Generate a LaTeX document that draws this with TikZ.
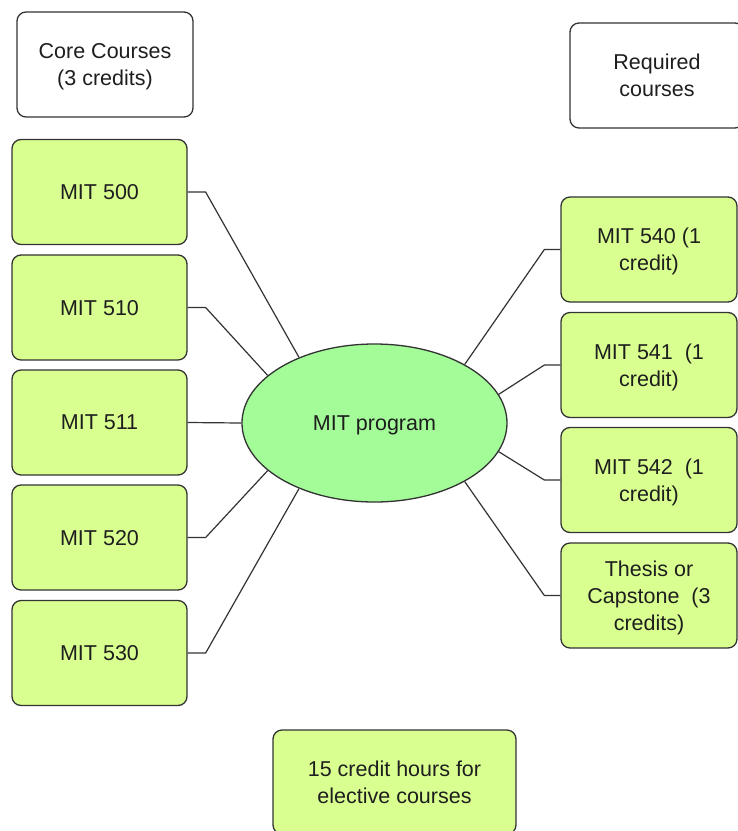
\documentclass[tikz,border=0pt]{standalone}
\usepackage{fontspec}
\setmainfont{Liberation Sans}
\usetikzlibrary{shapes.geometric}
\definecolor{boxfill}{HTML}{D9FF90}
\definecolor{hubfill}{HTML}{A3FC98}
\definecolor{edge}{HTML}{333333}
\definecolor{ink}{HTML}{1E1E1E}
\begin{document}
\begin{tikzpicture}[x=1pt,y=-1pt,
  every node/.style={font=\fontsize{21.5}{27}\selectfont, text=ink, align=center,
    inner sep=0pt, text depth=0pt},
  label box/.style={draw=edge, line width=1.3pt, rounded corners=9pt, fill=white,
    minimum width=176pt, minimum height=105pt},
  course/.style={label box, fill=boxfill},
  hub/.style={ellipse, draw=edge, line width=1.3pt, fill=hubfill,
    minimum width=265pt, minimum height=158pt},
  link/.style={draw=edge, line width=1.2pt}]
\clip (0,0) rectangle (738,831);
\fill[white] (0,0) rectangle (738,831);

% headings
\node[label box] (core) at (105,64.5) {Core Courses\\(3 credits)};
\node[label box, minimum width=174pt] (req) at (657,75.5) {Required\\courses};

% central program
\node[hub] (prog) at (374.5,423) {MIT program};

% core courses on the left
\node[course, minimum width=175pt] (c500) at (99.5,192)   {MIT 500};
\node[course, minimum width=175pt] (c510) at (99.5,307.5) {MIT 510};
\node[course, minimum width=175pt] (c511) at (99.5,422.5) {MIT 511};
\node[course, minimum width=175pt] (c520) at (99.5,537.5) {MIT 520};
\node[course, minimum width=175pt] (c530) at (99.5,653)   {MIT 530};

% required courses on the right
\node[course] (c540) at (649,249.5) {MIT 540 (1\\credit)};
\node[course] (c541) at (649,365)   {MIT 541~ (1\\credit)};
\node[course] (c542) at (649,480)   {MIT 542~ (1\\credit)};
\node[course] (thesis) at (649,595.5) {Thesis or\\Capstone~ (3\\credits)};

% electives
\node[course, minimum width=243pt, minimum height=104pt] (elect) at (394.5,782)
  {15 credit hours for\\elective courses};

% elbow connectors: short stub off the box, then straight to the ellipse
\draw[link] (c500.east) -- ++(18,0) -- (prog.139);
\draw[link] (c510.east) -- ++(18,0) -- (prog.156);
\draw[link] (c511.east) -- (prog.west);
\draw[link] (c520.east) -- ++(18,0) -- (prog.204);
\draw[link] (c530.east) -- ++(18,0) -- (prog.221);

\draw[link] (c540.west) -- ++(-16,0) -- (prog.33);
\draw[link] (c541.west) -- ++(-16,0) -- (prog.13);
\draw[link] (c542.west) -- ++(-16,0) -- (prog.-13);
\draw[link] (thesis.west) -- ++(-16,0) -- (prog.-33);
\end{tikzpicture}
\end{document}
